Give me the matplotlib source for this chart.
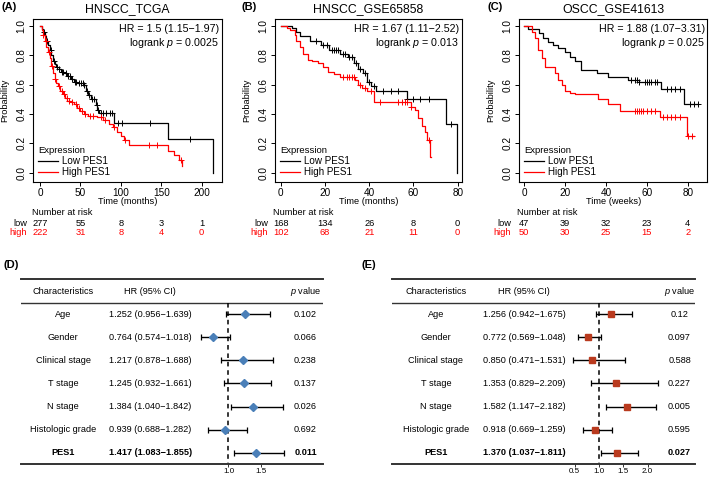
import numpy as np
import matplotlib.pyplot as plt
from matplotlib.lines import Line2D
from matplotlib.transforms import offset_copy

plt.rcParams['font.family'] = ['Liberation Sans', 'DejaVu Sans']
plt.rcParams['mathtext.fontset'] = 'custom'
plt.rcParams['mathtext.rm'] = 'Liberation Sans'
plt.rcParams['mathtext.it'] = 'Liberation Sans:italic'

# ---- Kaplan-Meier data ----
# (A) HNSCC_TCGA
a_low_t = [0, 2, 4, 6, 8, 10, 12, 14, 16, 18, 20, 23, 26, 30, 34, 38, 42, 46, 54, 57, 60, 63, 69, 71, 73, 92, 159, 214]
a_low_s = [1.0, 0.98, 0.96, 0.93, 0.90, 0.87, 0.84, 0.80, 0.76, 0.74, 0.72, 0.71, 0.69, 0.68, 0.66, 0.64, 0.62, 0.61,
           0.60, 0.56, 0.53, 0.50, 0.46, 0.43, 0.41, 0.34, 0.23, 0.0]
a_low_c = [5, 9, 13, 17, 21, 24, 27, 29, 32, 35, 37, 40, 43, 45, 48, 51, 53, 55, 58, 61, 64, 67, 70, 72, 75, 78, 82,
           86, 89, 97, 101, 136, 186]
a_high_t = [0, 2, 4, 6, 8, 10, 12, 14, 16, 18, 20, 22, 25, 28, 31, 34, 38, 42, 46, 50, 55, 60, 70, 78, 85, 90, 95,
            100, 104, 110, 158, 166, 172, 176]
a_high_s = [1.0, 0.97, 0.94, 0.90, 0.86, 0.82, 0.78, 0.73, 0.68, 0.64, 0.61, 0.59, 0.56, 0.54, 0.51, 0.49, 0.48,
            0.47, 0.44, 0.42, 0.40, 0.39, 0.38, 0.36, 0.33, 0.31, 0.28, 0.25, 0.22, 0.19, 0.15, 0.12, 0.09, 0.045]
a_high_c = [4, 7, 11, 15, 19, 23, 27, 30, 33, 36, 40, 44, 48, 52, 56, 62, 66, 75, 80, 92, 105, 135, 145, 175]
a_ticks = [0, 50, 100, 150, 200]
a_risk_low = [277, 55, 8, 3, 1]
a_risk_high = [222, 31, 8, 4, 0]

# (B) HNSCC_GSE65858
b_low_t = [0, 5, 7, 8.7, 13, 18, 22, 27, 30.5, 33, 35, 37, 39, 41, 43, 57, 74.7, 79.5]
b_low_s = [1.0, 0.985, 0.96, 0.93, 0.90, 0.87, 0.84, 0.81, 0.79, 0.75, 0.71, 0.68, 0.62, 0.59, 0.56, 0.50, 0.33, 0.0]
b_low_c = [16, 19, 21, 23, 24, 25, 26, 28, 29, 31, 32, 34, 36, 38, 40, 42, 46, 50, 53, 57, 60, 63, 67, 77]
b_high_t = [0, 2.7, 4, 6.5, 7, 8.7, 10, 12.5, 14, 17, 19, 21.5, 24, 27, 33.6, 35, 36.6, 39, 42, 59, 60.7, 62,
            63.7, 65, 66, 67.5, 68]
b_high_s = [1.0, 0.99, 0.97, 0.94, 0.90, 0.86, 0.81, 0.77, 0.76, 0.75, 0.72, 0.69, 0.67, 0.65, 0.63, 0.60, 0.58,
            0.56, 0.48, 0.45, 0.43, 0.37, 0.32, 0.28, 0.22, 0.11, 0.11]
b_high_c = [28, 30, 31, 32, 33, 36, 38, 41, 45, 53, 55, 56, 57, 59, 67]
b_ticks = [0, 20, 40, 60, 80]
b_risk_low = [168, 134, 26, 8, 0]
b_risk_high = [102, 68, 21, 11, 0]

# (C) OSCC_GSE41613
c_low_t = [0, 2, 7, 9.3, 11.8, 14.2, 16.7, 20, 22.4, 24.8, 28, 35.4, 41, 51, 56, 67, 78, 85]
c_low_s = [1.0, 0.98, 0.95, 0.92, 0.89, 0.87, 0.85, 0.82, 0.79, 0.76, 0.70, 0.68, 0.655, 0.63, 0.62, 0.57, 0.47, 0.47]
c_low_c = [52, 54, 55, 56, 59, 60, 61, 62, 64, 65, 70, 72, 74, 76, 81, 83, 85]
c_high_t = [0, 3.6, 5.2, 6.9, 8.5, 10, 15, 16.7, 18.3, 20, 22.4, 24.8, 36, 41, 47, 66.5, 79.5, 83]
c_high_s = [1.0, 0.96, 0.92, 0.84, 0.78, 0.72, 0.68, 0.63, 0.60, 0.56, 0.545, 0.535, 0.50, 0.47, 0.42, 0.38, 0.25, 0.25]
c_high_c = [54, 55, 56, 57, 58, 60, 62, 64, 68, 70, 72, 74, 76, 80, 82]
c_ticks = [0, 20, 40, 60, 80]
c_risk_low = [47, 39, 32, 23, 4]
c_risk_high = [50, 30, 25, 15, 2]

# ---- forest plot data ----
chars = ['Age', 'Gender', 'Clinical stage', 'T stage', 'N stage', 'Histologic grade', 'PES1']
d_hr = [1.252, 0.764, 1.217, 1.245, 1.384, 0.939, 1.417]
d_lo = [0.956, 0.574, 0.878, 0.932, 1.040, 0.688, 1.083]
d_hi = [1.639, 1.018, 1.688, 1.661, 1.842, 1.282, 1.855]
d_p = ['0.102', '0.066', '0.238', '0.137', '0.026', '0.692', '0.011']
e_hr = [1.256, 0.772, 0.850, 1.353, 1.582, 0.918, 1.370]
e_lo = [0.942, 0.569, 0.471, 0.829, 1.147, 0.669, 1.037]
e_hi = [1.675, 1.048, 1.531, 2.209, 2.182, 1.259, 1.811]
e_p = ['0.12', '0.097', '0.588', '0.227', '0.005', '0.595', '0.027']

W, H = 709, 478
fig = plt.figure(figsize=(W / 100, H / 100), dpi=100)


def px_axes(l, t, r, b):
    return fig.add_axes([l / W, 1 - b / H, (r - l) / W, (b - t) / H])


def km_panel(box, xlim, ticks, title, tag, tag_x, hr, p, xlab, low, high, rlow, rhigh):
    ax = px_axes(*box)
    for (t, s, cens), col in ((low, 'black'), (high, 'red')):
        ax.step(t, s, where='post', color=col, lw=0.9)
        idx = np.searchsorted(t, cens, side='right') - 1
        ax.plot(cens, np.array(s)[idx], '+', color=col, ms=4.5, mew=0.7)
    ax.set_xlim(*xlim)
    ax.set_ylim(-0.063, 1.048)
    ax.set_xticks(ticks)
    ax.set_yticks([0, 0.2, 0.4, 0.6, 0.8, 1.0])
    ax.set_yticklabels(['0.0', '0.2', '0.4', '0.6', '0.8', '1.0'], rotation=90, va='center')
    ax.tick_params(labelsize=7.2, length=3, width=0.7, pad=1.5)
    for sp in ax.spines.values():
        sp.set_linewidth(0.8)
    ax.set_ylabel('Probability', fontsize=6.7)
    ax.yaxis.set_label_coords(-0.125, 0.5)
    ax.set_xlabel(xlab, fontsize=6.7)
    ax.xaxis.set_label_coords(0.5, -0.118)
    ax.xaxis.label.set_va('center')
    ax.set_title(title, fontsize=8.8, pad=5)
    fig.text(tag_x / W, 1 - 7.5 / H, tag, fontsize=8, fontweight='bold', va='center')
    ax.text(0.985, 0.937, hr, transform=ax.transAxes, ha='right', va='center', fontsize=7.7)
    ax.text(0.985, 0.855, r'logrank $\it{p}$ = ' + p, transform=ax.transAxes, ha='right', va='center',
            fontsize=7.7)
    handles = [Line2D([], [], color='black', lw=0.9), Line2D([], [], color='red', lw=0.9)]
    leg = ax.legend(handles, ['Low PES1', 'High PES1'], title='Expression', loc='lower left', frameon=False,
                    fontsize=7.1, title_fontsize=6.8, handlelength=2.0, handletextpad=0.4, labelspacing=0.1,
                    borderaxespad=0.2, borderpad=0.3)
    leg._legend_box.align = 'left'
    # number at risk table
    tr = ax.get_xaxis_transform()
    ax.text(0, -0.185, 'Number at risk', transform=offset_copy(tr, fig=fig, x=-7.5, units='dots'),
            ha='left', va='center', fontsize=6.7)
    lab_tr = offset_copy(tr, fig=fig, x=-13, units='dots')
    for y, lab, vals, col in ((-0.252, 'low', rlow, 'black'), (-0.311, 'high', rhigh, 'red')):
        ax.text(0, y, lab, transform=lab_tr, ha='right', va='center', fontsize=6.7, color=col)
        for x, v in zip(ticks, vals):
            ax.text(x, y, str(v), transform=tr, ha='center', va='center', fontsize=6.7, color=col)
    return ax


km_panel((33, 19, 222, 182), (-8.66, 225.2), a_ticks, 'HNSCC_TCGA', '(A)', 2,
         'HR = 1.5 (1.15\u22121.97)', '0.0025', 'Time (months)',
         (a_low_t, a_low_s, a_low_c), (a_high_t, a_high_s, a_high_c), a_risk_low, a_risk_high)
km_panel((275, 19, 461.7, 182), (-2.6, 81.8), b_ticks, 'HNSCC_GSE65858', '(B)', 241,
         'HR = 1.67 (1.11\u22122.52)', '0.013', 'Time (months)',
         (b_low_t, b_low_s, b_low_c), (b_high_t, b_high_s, b_high_c), b_risk_low, b_risk_high)
km_panel((519, 19, 707.5, 182), (-2.6, 89.7), c_ticks, 'OSCC_GSE41613', '(C)', 487,
         'HR = 1.88 (1.07\u22123.31)', '0.025', 'Time (weeks)',
         (c_low_t, c_low_s, c_low_c), (c_high_t, c_high_s, c_high_c), c_risk_low, c_risk_high)


def forest_panel(box, xlim, ticks, tag, tag_x, hr, lo, hi, pv, col, marker, ms, cols):
    ax = px_axes(*box)
    n = len(chars)
    y = np.arange(n)
    ax.set_xlim(*xlim)
    ax.set_ylim(6.49, -1.53)
    for s in ('left', 'right'):
        ax.spines[s].set_visible(False)
    for s in ('top', 'bottom'):
        ax.spines[s].set_linewidth(1.4)
        ax.spines[s].set_color('#333333')
    ax.axhline(-0.5, color='#333333', lw=1.0)
    ax.plot([1, 1], [-0.5, 6.49], color='black', lw=1.1, ls=(0, (3, 2.5)))
    ax.errorbar(hr, y, xerr=[np.array(hr) - np.array(lo), np.array(hi) - np.array(hr)], fmt='none',
                ecolor='black', elinewidth=1.0, capsize=2.5, capthick=0.9)
    ax.plot(hr, y, marker, color=col, ms=ms, ls='none', zorder=3)
    ax.set_yticks([])
    ax.set_xticks(ticks)
    ax.set_xticklabels(['%.1f' % t for t in ticks])
    ax.tick_params(axis='x', labelsize=5.8, length=2, width=0.7, pad=1, color='#333333')
    tr = ax.get_yaxis_transform()
    cx, hx, px = cols
    fs = 6.6
    ax.text(cx, -0.98, 'Characteristics', transform=tr, ha='center', va='center', fontsize=fs)
    ax.text(hx, -0.98, 'HR (95% CI)', transform=tr, ha='center', va='center', fontsize=fs)
    ax.text(px, -0.98, r'$\it{p}$ value', transform=tr, ha='center', va='center', fontsize=fs)
    for i in range(n):
        w = 'bold' if chars[i] == 'PES1' else 'normal'
        ax.text(cx, i, chars[i], transform=tr, ha='center', va='center', fontsize=fs, fontweight=w)
        ax.text(hx, i, '%.3f (%.3f\u2212%.3f)' % (hr[i], lo[i], hi[i]), transform=tr, ha='center',
                va='center', fontsize=fs, fontweight=w)
        ax.text(px, i, pv[i], transform=tr, ha='center', va='center', fontsize=fs, fontweight=w)
    fig.text(tag_x / W, 1 - 265 / H, tag, fontsize=8, fontweight='bold', va='center')
    return ax


forest_panel((20.7, 279, 323, 464), (-2.197, 2.454), [1.0, 1.5], '(D)', 3, d_hr, d_lo, d_hi, d_p,
             '#4A7FB8', 'D', 4.5, (0.141, 0.428, 0.942))
forest_panel((392.3, 279, 695, 464), (-3.262, 2.979), [0.5, 1.0, 1.5, 2.0], '(E)', 362, e_hr, e_lo, e_hi, e_p,
             '#B93A1E', 's', 4.3, (0.144, 0.435, 0.949))

fig.savefig('out.png', dpi=100)
